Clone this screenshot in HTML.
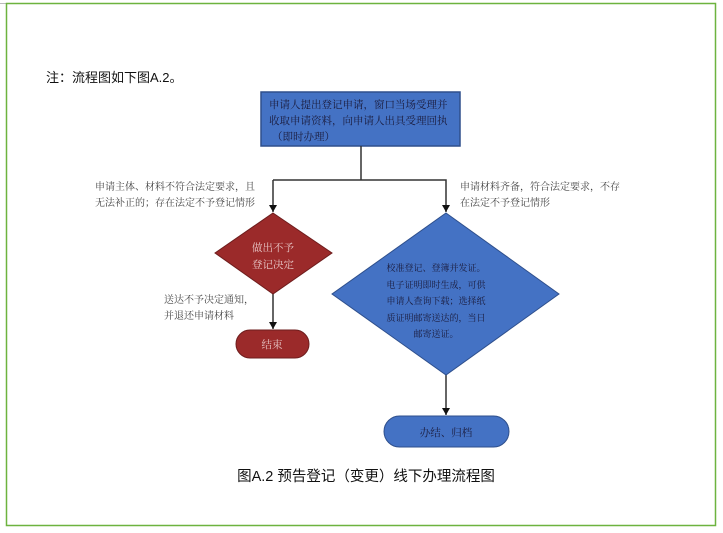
<!DOCTYPE html>
<html><head><meta charset="utf-8"><style>
html,body{margin:0;padding:0;background:#fff;width:723px;height:533px;overflow:hidden}
svg{display:block}
.s{font-family:"Liberation Serif","Noto Serif CJK SC",serif}
.g{font-family:"Liberation Sans","Noto Sans CJK SC",sans-serif}
</style></head><body>
<svg width="723" height="533" viewBox="0 0 723 533" xmlns="http://www.w3.org/2000/svg">
<defs><marker id="a" markerWidth="8" markerHeight="8" refX="7" refY="4" orient="auto" markerUnits="userSpaceOnUse"><path d="M0,0 L7,4 L0,8 z" fill="#111"/></marker></defs>
<line x1="0" y1="3.5" x2="6" y2="3.5" stroke="#bbb"/>
<rect x="6.5" y="3.5" width="709" height="522" fill="none" stroke="#6db33f" stroke-width="1.5"/>
<text x="46" y="82" class="g" font-size="13" fill="#111">注：流程图如下图A.2。</text>
<rect x="261" y="92" width="199" height="54" fill="#4472c4" stroke="#2e4f8c" stroke-width="1.5"/>
<g class="s" font-size="10.5" fill="#1a1a3a">
<text x="269" y="108">申请人提出登记申请，窗口当场受理并</text>
<text x="269" y="124">收取申请资料，向申请人出具受理回执</text>
<text x="272" y="140">（即时办理）</text>
</g>
<g stroke="#333" stroke-width="1.5" fill="none">
<line x1="361" y1="146" x2="361" y2="180"/>
<polyline points="273,180 446,180 446,212" marker-end="url(#a)"/>
<line x1="273" y1="180" x2="273" y2="212" marker-end="url(#a)"/>
<line x1="273" y1="294" x2="273" y2="329" marker-end="url(#a)"/>
<line x1="446" y1="375" x2="446" y2="415" marker-end="url(#a)"/>
</g>
<polygon points="273,213 332,253 273,294 215,253" fill="#9b2a2a" stroke="#6e1d1d"/>
<g class="s" font-size="10.5" fill="#e8c8c8" text-anchor="middle">
<text x="273" y="251">做出不予</text><text x="273" y="268">登记决定</text>
</g>
<rect x="236" y="330" width="73" height="28" rx="14" fill="#9b2a2a" stroke="#6e1d1d"/>
<text x="272" y="348" class="s" font-size="10.5" fill="#e8c8c8" text-anchor="middle">结束</text>
<polygon points="446,213 559,294 446,375 332,294" fill="#4472c4" stroke="#2e4f8c"/>
<g class="s" font-size="9" fill="#1a1a3a" text-anchor="middle">
<text x="436" y="271">校准登记、登簿并发证。</text>
<text x="436" y="288">电子证明即时生成，可供</text>
<text x="436" y="304">申请人查询下载；选择纸</text>
<text x="436" y="321">质证明邮寄送达的，当日</text>
<text x="436" y="337">邮寄送证。</text>
</g>
<rect x="384" y="416" width="125" height="31" rx="15.5" fill="#4472c4" stroke="#2e4f8c"/>
<text x="446" y="436" class="s" font-size="10.5" fill="#1a1a3a" text-anchor="middle">办结、归档</text>
<g class="s" font-size="10" fill="#444">
<text x="95" y="190">申请主体、材料不符合法定要求，且</text>
<text x="95" y="206">无法补正的；存在法定不予登记情形</text>
<text x="460" y="190">申请材料齐备，符合法定要求，不存</text>
<text x="460" y="206">在法定不予登记情形</text>
<text x="164" y="303">送达不予决定通知，</text>
<text x="164" y="319">并退还申请材料</text>
</g>
<text x="366" y="481" class="g" font-size="14.5" fill="#111" text-anchor="middle">图A.2 预告登记（变更）线下办理流程图</text>
</svg>
</body></html>
